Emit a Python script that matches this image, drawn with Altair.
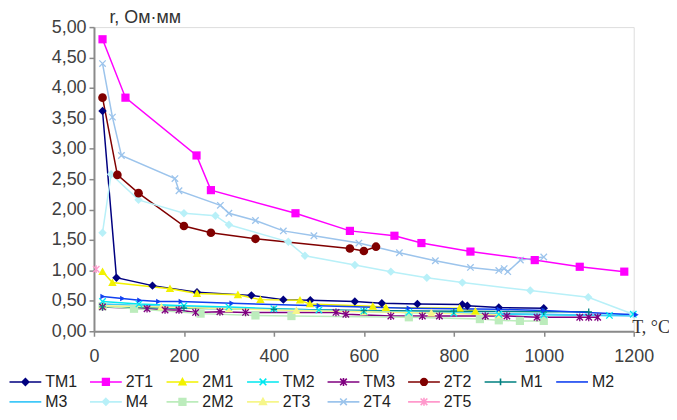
import altair as alt
import pandas as pd

# ---- data ----
series_names = ["TM1", "2T1", "2M1", "TM2", "TM3", "2T2", "M1", "M2",
                "M3", "M4", "2M2", "2T3", "2T4", "2T5"]

TM1_T = [19, 50, 130, 229, 350, 421, 481, 580, 640, 719, 819, 830, 900, 1000]
TM1_r = [3.62, 0.88, 0.75, 0.64, 0.59, 0.52, 0.51, 0.49, 0.46, 0.45, 0.44, 0.42, 0.39, 0.38]

T2T1_T = [19, 70, 228, 260, 448, 569, 668, 728, 837, 980, 1080, 1179]
T2T1_r = [4.80, 3.84, 2.89, 2.32, 1.94, 1.65, 1.57, 1.45, 1.31, 1.17, 1.06, 0.98]

M21_T = [19, 41, 169, 229, 320, 370, 458, 480, 620, 649, 813, 848]
M21_r = [0.98, 0.80, 0.70, 0.62, 0.60, 0.52, 0.51, 0.45, 0.41, 0.39, 0.38, 0.33]

TM2_T = [19, 100, 200, 300, 400, 500, 600, 700, 800, 900, 1000, 1146, 1199]
TM2_r = [0.49, 0.45, 0.42, 0.40, 0.37, 0.35, 0.33, 0.31, 0.30, 0.28, 0.27, 0.26, 0.28]

TM3_T = [19, 118, 158, 189, 226, 280, 337, 538, 560, 660, 730, 768, 870, 918, 985, 1080, 1100, 1120]
TM3_r = [0.40, 0.37, 0.35, 0.35, 0.31, 0.32, 0.31, 0.31, 0.28, 0.25, 0.25, 0.25, 0.25, 0.25, 0.23, 0.23, 0.23, 0.23]

T2T2_T = [19, 52, 99, 200, 260, 359, 569, 600, 627]
T2T2_r = [3.84, 2.57, 2.27, 1.73, 1.62, 1.52, 1.36, 1.32, 1.39]

M1_T = [19, 200, 400, 600, 800, 1000, 1100]
M1_r = [0.40, 0.38, 0.36, 0.34, 0.33, 0.32, 0.32]

M2_T = [19, 63, 101, 143, 193, 306, 500, 700, 900, 1000, 1205]
M2_r = [0.57, 0.54, 0.51, 0.49, 0.49, 0.46, 0.42, 0.38, 0.36, 0.34, 0.27]

M3_T = [19, 200, 400, 600, 800, 1000, 1200]
M3_r = [0.45, 0.40, 0.36, 0.33, 0.30, 0.28, 0.25]

M4_T = [19, 38, 99, 200, 270, 300, 432, 469, 580, 660, 740, 819, 970, 1099, 1199]
M4_r = [1.62, 2.58, 2.16, 1.94, 1.90, 1.75, 1.47, 1.24, 1.09, 0.98, 0.88, 0.80, 0.67, 0.56, 0.28]

M22_T = [19, 89, 237, 359, 439, 700, 858, 900, 947, 1000]
M22_r = [0.41, 0.37, 0.29, 0.26, 0.25, 0.23, 0.20, 0.18, 0.17, 0.17]

T2T3_T = [19, 150, 300, 450, 600, 750, 900]
T2T3_r = [0.42, 0.40, 0.37, 0.34, 0.32, 0.30, 0.27]

T2T4_T = [19, 41, 61, 180, 189, 281, 300, 359, 421, 489, 589, 679, 759, 837, 900, 912, 920, 948, 1000]
T2T4_r = [4.40, 3.52, 2.89, 2.51, 2.31, 2.07, 1.94, 1.82, 1.65, 1.57, 1.45, 1.29, 1.16, 1.05, 1.00, 1.03, 0.98, 1.17, 1.22]

T2T5_T = [5]
T2T5_r = [1.02]

x_ticks = [0, 200, 400, 600, 800, 1000, 1200]
y_ticks = [0, 0.5, 1, 1.5, 2, 2.5, 3, 3.5, 4, 4.5, 5]

# ---- styling ----
colors = ["#000080", "#FF00FF", "#F2F200", "#00E8F0", "#800080", "#800000", "#008080", "#1040F0",
          "#40C8F8", "#B8F0F8", "#BCECBC", "#F6F68A", "#9CC4EC", "#FF99CC"]
markers = ["diamond", "square", "triangle", "x", "star", "circle", "plus", "triright",
           "none", "diamond", "square", "triangle", "x", "star"]

series_T = [TM1_T, T2T1_T, M21_T, TM2_T, TM3_T, T2T2_T, M1_T, M2_T, M3_T, M4_T, M22_T, T2T3_T, T2T4_T, T2T5_T]
series_r = [TM1_r, T2T1_r, M21_r, TM2_r, TM3_r, T2T2_r, M1_r, M2_r, M3_r, M4_r, M22_r, T2T3_r, T2T4_r, T2T5_r]

rows = []
for name, mk, Ts, rs in zip(series_names, markers, series_T, series_r):
    for i, (t, r) in enumerate(zip(Ts, rs)):
        rows.append({"series": name, "T": t, "r": r, "idx": i, "marker": mk})
df = pd.DataFrame(rows)

# marker shapes for the plot (unit coords) : (path, filled, size)
plot_shapes = {
    "diamond": ("M0,-1L1,0L0,1L-1,0Z", True, 72),
    "square": ("M-1,-1H1V1H-1Z", True, 68),
    "triangle": ("M0,-1L1,0.8L-1,0.8Z", True, 72),
    "x": ("M-1,-1L1,1M1,-1L-1,1", False, 42),
    "star": ("M-1,-1L1,1M1,-1L-1,1M0,-1.2L0,1.2", False, 42),
    "circle": ("circle", True, 76),
    "plus": ("M-1,0H1M0,-1V1", False, 42),
    "triright": ("M-0.8,-1L1,0L-0.8,1Z", True, 30),
}


def poly(pts, s):
    return "M" + "L".join(f"{x*s:.3f},{y*s:.3f}" for x, y in pts) + "Z"


def legend_marker(mk):
    base = {
        "diamond": [(0, -1), (1, 0), (0, 1), (-1, 0)],
        "square": [(-1, -1), (1, -1), (1, 1), (-1, 1)],
        "triangle": [(0, -1), (1, 0.8), (-1, 0.8)],
    }
    a = 0.42
    if mk in base:
        return "".join(poly(base[mk], a * k) for k in (1, 0.6, 0.2))
    if mk == "circle":
        out = ""
        for k in (1, 0.6, 0.2):
            rr = a * k
            out += f"M{rr:.3f},0A{rr:.3f},{rr:.3f} 0 1,1 {-rr:.3f},0A{rr:.3f},{rr:.3f} 0 1,1 {rr:.3f},0Z"
        return out
    if mk == "x":
        return f"M{-a},{-a}L{a},{a}M{a},{-a}L{-a},{a}"
    if mk == "star":
        return f"M{-a},{-a}L{a},{a}M{a},{-a}L{-a},{a}M0,{-a*1.2}L0,{a*1.2}"
    if mk == "plus":
        return f"M{-a},0H{a}M0,{-a}V{a}"
    return ""


legend_markers = ["diamond", "square", "triangle", "x", "star", "circle", "plus", "none",
                  "none", "diamond", "square", "triangle", "x", "star"]
legend_paths = ["M-2,0H2" + legend_marker(m) for m in legend_markers]

font = "Liberation Sans"

x_enc = alt.X("T:Q", scale=alt.Scale(domain=[0, 1200], nice=False),
              axis=alt.Axis(values=x_ticks, grid=False, title="T, °C", format="d",
                            titleFont="Liberation Serif",
                            titleFontSize=18, titleFontWeight="normal", titleColor="#333",
                            titleAngle=0, titleAlign="left", titleBaseline="middle",
                            titleX=541, titleY=-4,
                            labelFontSize=18, labelFont=font, labelColor="#404040",
                            labelPadding=11, domainColor="#8a8a8a", domainWidth=2,
                            tickColor="#8a8a8a", tickWidth=1.5, tickSize=5, labelFlush=False))
y_enc = alt.Y("r:Q", scale=alt.Scale(domain=[0, 5], nice=False),
              axis=alt.Axis(values=y_ticks, grid=False, title="r, Ом·мм",
                            labelExpr="replace(format(datum.value, '.2f'), '.', ',')",
                            titleFont=font, titleFontSize=18, titleFontWeight="normal",
                            titleColor="#333", titleAngle=0, titleAlign="left",
                            titleBaseline="middle", titleX=15, titleY=-10,
                            labelFontSize=18, labelFont=font, labelColor="#404040",
                            labelPadding=3, domainColor="#8a8a8a", domainWidth=2,
                            tickColor="#8a8a8a", tickWidth=1.5, tickSize=5))

color_scale = alt.Scale(domain=series_names, range=colors)

leg = alt.Legend(orient="none", legendX=-86, legendY=348, columns=8, direction="horizontal",
                 title=None, symbolSize=256, symbolOffset=8, labelOffset=11,
                 labelFontSize=16, labelFont=font, labelColor="#222",
                 columnPadding=9, rowPadding=3, symbolStrokeWidth=1.6,
                 symbolOpacity=1, labelLimit=120)

# one row per series, placed below the visible range so only the legend shows
legend_df = pd.DataFrame({"series": series_names, "T": [0] * len(series_names),
                          "r": [-50] * len(series_names)})

legend_layer = alt.Chart(legend_df).mark_point(
    filled=False, opacity=1, strokeWidth=1.6, clip=True).encode(
    x=x_enc, y=y_enc,
    color=alt.Color("series:N", scale=color_scale, legend=leg),
    shape=alt.Shape("series:N", scale=alt.Scale(domain=series_names, range=legend_paths), legend=leg),
)

lines = alt.Chart(df).mark_line(strokeWidth=1.5).encode(
    x=x_enc, y=y_enc,
    color=alt.Color("series:N", scale=color_scale, legend=None),
    detail="series:N",
    order="idx:Q",
)

layers = [legend_layer, lines]
for mk, (path, filled, size) in plot_shapes.items():
    sub = df[df["marker"] == mk]
    if len(sub) == 0:
        continue
    pts = alt.Chart(sub).mark_point(shape=path, filled=filled, size=size, opacity=1,
                                    strokeWidth=1.3).encode(
        x=x_enc, y=y_enc,
        color=alt.Color("series:N", scale=color_scale, legend=None),
    )
    layers.append(pts)

chart = alt.layer(*layers).properties(
    width=543, height=306,
    padding={"left": 86.5, "top": 18, "right": 35.5, "bottom": 79},
    autosize=alt.AutoSizeParams(type="none"),
).configure_view(stroke=None).configure(background="white")

chart.save("out.html", embed_options={"renderer": "svg", "actions": False})
